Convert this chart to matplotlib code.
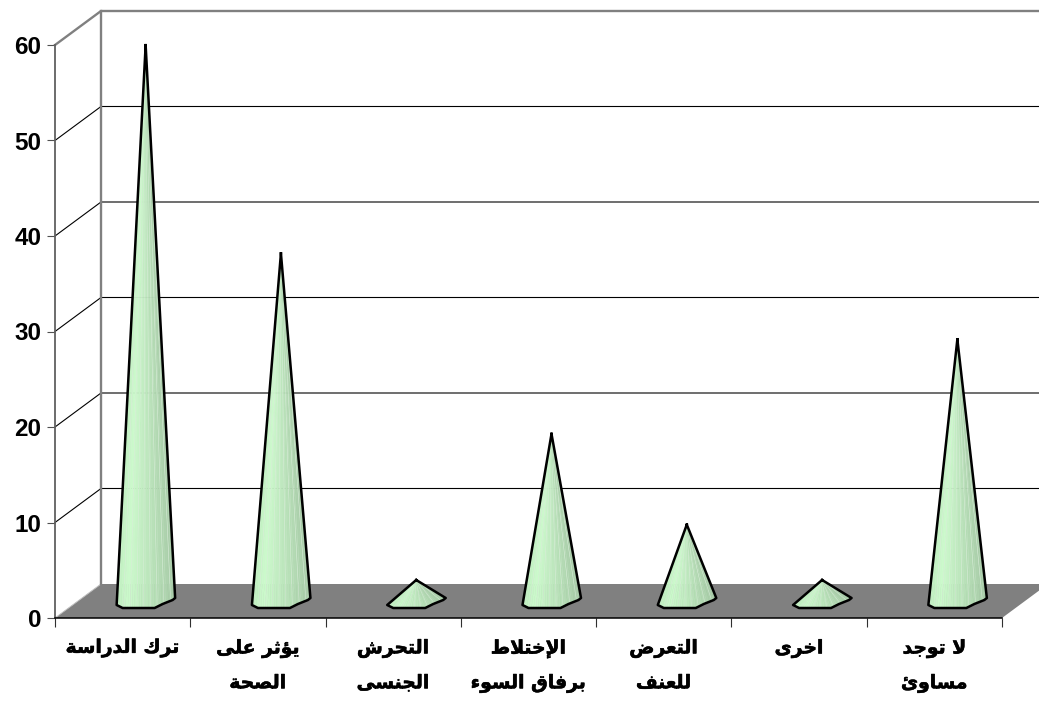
import numpy as np
import matplotlib
matplotlib.use("Agg")
import matplotlib.pyplot as plt
import matplotlib.patheffects as pe
from matplotlib.collections import PolyCollection
from matplotlib.colors import LinearSegmentedColormap

# Data ---------------------------------------------------------------
categories = [
    "ترك الدراسة",
    "يؤثر على\nالصحة",
    "التحرش\nالجنسى",
    "الإختلاط\nبرفاق السوء",
    "التعرض\nللعنف",
    "اخرى",
    "لا توجد\nمساوئ",
]
values = [58.2, 36.4, 2.2, 17.5, 8.0, 2.2, 27.4]
y_ticks = [0, 10, 20, 30, 40, 50, 60]

# Minimal Arabic shaping: matplotlib draws glyphs left to right, unshaped
ISO = {'ء': 0xFE80, 'أ': 0xFE83, 'ؤ': 0xFE85, 'إ': 0xFE87, 'ئ': 0xFE89, 'ا': 0xFE8D,
       'ب': 0xFE8F, 'ة': 0xFE93, 'ت': 0xFE95, 'ث': 0xFE99, 'ج': 0xFE9D, 'ح': 0xFEA1,
       'خ': 0xFEA5, 'د': 0xFEA9, 'ذ': 0xFEAB, 'ر': 0xFEAD, 'ز': 0xFEAF, 'س': 0xFEB1,
       'ش': 0xFEB5, 'ص': 0xFEB9, 'ض': 0xFEBD, 'ط': 0xFEC1, 'ظ': 0xFEC5, 'ع': 0xFEC9,
       'غ': 0xFECD, 'ف': 0xFED1, 'ق': 0xFED5, 'ك': 0xFED9, 'ل': 0xFEDD, 'م': 0xFEE1,
       'ن': 0xFEE5, 'ه': 0xFEE9, 'و': 0xFEED, 'ى': 0xFEEF, 'ي': 0xFEF1}
NO_FORWARD = set('ءأؤإاةدذرزوى')
LAM_ALEF = {'ا': 0xFEFB, 'إ': 0xFEF9, 'أ': 0xFEF7}


def shape_line(s):
    out, i = [], 0
    while i < len(s):
        c = s[i]
        if c not in ISO:
            out.append(c)
            i += 1
            continue
        prev = s[i - 1] if i else ' '
        joins_prev = prev in ISO and prev not in NO_FORWARD
        if c == 'ل' and i + 1 < len(s) and s[i + 1] in LAM_ALEF:
            out.append(chr(LAM_ALEF[s[i + 1]] + (1 if joins_prev else 0)))
            i += 2
            continue
        nxt = s[i + 1] if i + 1 < len(s) else ' '
        joins_next = c not in NO_FORWARD and nxt in ISO
        base = ISO[c]
        if c == 'ء':
            form = 0
        elif joins_prev and joins_next:
            form = 3
        elif joins_prev:
            form = 1
        elif joins_next:
            form = 2
        else:
            form = 0
        out.append(chr(base + form))
        i += 1
    return ''.join(reversed(out))


def shape(s):
    return '\n'.join(shape_line(p) for p in s.split('\n'))


# Layout -------------------------------------------------------------
W, H = 1039, 701
fig = plt.figure(figsize=(W / 100, H / 100), dpi=100, facecolor='white')
ax = fig.add_axes([55 / W, (H - 618) / H, 947 / W, 573 / H])
n = len(values)
ax.set_xlim(0, n)
ax.set_ylim(0, 60)
ax.patch.set_visible(False)
px_x = n / 947
px_y = 60 / 573
DX, DY = 46 * px_x, 34 * px_y

GRAY = '#808080'
top = 60

# floor
ax.fill([0, n, n + DX, DX], [0, 0, DY, DY], color=GRAY, lw=0, zorder=1, clip_on=False)
# grid
for v in y_ticks[1:-1]:
    ax.plot([0, DX, n + DX], [v, v + DY, v + DY], color='black', lw=0.8, zorder=1, clip_on=False)
# walls
ax.plot([0, DX, n + DX], [top, top + DY, top + DY], color=GRAY, lw=1.7, zorder=2, clip_on=False)
ax.plot([DX, DX], [DY, top + DY], color=GRAY, lw=1.7, zorder=2, clip_on=False)
ax.plot([0, DX], [0, DY], color='#c0c0c0', lw=0.7, zorder=1, clip_on=False)

# cones --------------------------------------------------------------
cmap = LinearSegmentedColormap.from_list(
    'cone', [(0, '#c0eec0'), (0.2, '#ccfacc'), (0.55, '#bce6bc'), (0.85, '#aed4ae'), (1, '#a6caa6')])
shape_dx = np.array([-29.0, -23, 9, 17, 27, 29.5])
shape_dy = np.array([-4, -7, -7, -3, 1, 3])
facets = 26
for i, v in enumerate(values):
    cx = i + 0.5 + DX / 2
    by = DY / 2
    ay = v + DY / 2
    t = np.linspace(shape_dx[0], shape_dx[-1], facets + 1)
    bxs = cx + t * px_x
    bys = by + np.interp(t, shape_dx, shape_dy) * px_y
    polys = [[(cx, ay), (bxs[k], bys[k]), (bxs[k + 1], bys[k + 1])] for k in range(facets)]
    cols = [cmap((k + 0.5) / facets) for k in range(facets)]
    edges = ['#d6ecd6' if k % 3 == 0 else cols[k] for k in range(facets)]
    ax.add_collection(PolyCollection(polys, facecolors=cols, edgecolors=edges, linewidths=0.4,
                                     zorder=3, clip_on=False))
    ox = cx + shape_dx * px_x
    oy = by + shape_dy * px_y
    ax.plot(np.r_[cx, ox, cx], np.r_[ay, oy, ay], color='black', lw=1.8, zorder=4,
            solid_joinstyle='round', clip_on=False)

# axes ---------------------------------------------------------------
for s in ('top', 'right'):
    ax.spines[s].set_visible(False)
ax.spines['left'].set_color('#606060')
ax.spines['left'].set_linewidth(1.3)
ax.spines['bottom'].set_color('black')
ax.spines['bottom'].set_linewidth(1.1)
ax.spines['bottom'].set_zorder(5)

ax.set_yticks(y_ticks)
ax.set_yticklabels([str(v) for v in y_ticks], fontfamily='Liberation Sans', fontweight='bold', fontsize=17.5)
ax.tick_params(axis='y', length=5.8, width=0.8, color='#505050', pad=4)

ax.set_xticks(range(n + 1))
ax.set_xticklabels([])
ax.tick_params(axis='x', which='major', length=6.5, width=0.8, color='#303030')
ax.set_xticks(np.arange(n) + 0.5, minor=True)
labels = ax.set_xticklabels([shape(c) for c in categories], minor=True, fontfamily='DejaVu Sans',
                            fontweight='bold', fontsize=13.5, linespacing=2.03, va='top')
for lab in labels:
    lab.set_path_effects([pe.withStroke(linewidth=0.4, foreground='black')])
ax.tick_params(axis='x', which='minor', length=0, pad=15)

fig.savefig('out.png', dpi=100, facecolor='white')
